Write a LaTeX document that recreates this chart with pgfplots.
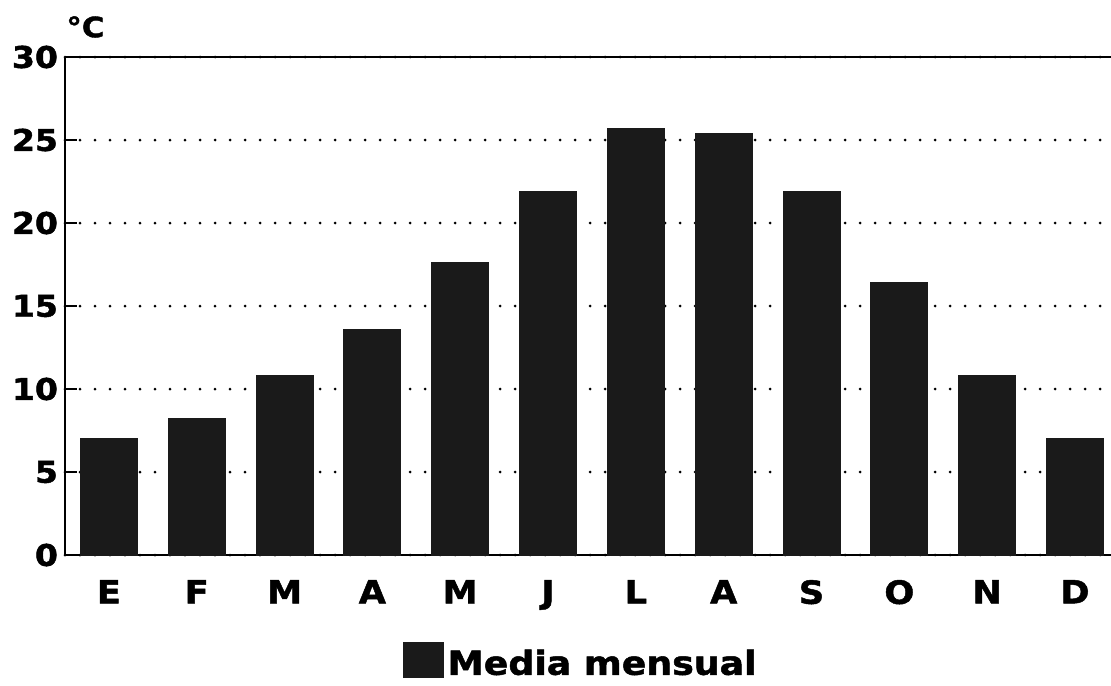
\documentclass[border=0pt]{standalone}
\usepackage{fontspec}
\setmainfont{DejaVu Sans}[BoldFeatures={FakeBold=1.5, FakeStretch=1.1}]
\usepackage{pgfplots}
\pgfplotsset{compat=1.18}
\definecolor{barblack}{HTML}{1A1A1A}
\begin{document}
\begin{tikzpicture}
\path[use as bounding box] (-32.5pt,-65pt) rectangle (523pt,277.5pt);
\begin{axis}[
    at={(0,0)}, anchor=south west,
    scale only axis,
    width=523pt, height=249pt,
    xmin=-0.5, xmax=11.41,
    ymin=0, ymax=30,
    ytick={0,5,10,15,20,25,30},
    xtick={0,...,11},
    xticklabels={E,F,M,A,M,J,L,A,S,O,N,D},
    axis x line=box,
    axis y line=left,
    axis line style={line width=1pt, -},
    every outer y axis line/.append style={-},
    x tick style={draw=none},
    y tick style={line width=1pt, black},
    major tick length=6pt,
    tick align=inside,
    ymajorgrids,
    major grid style={black, line width=1.5pt, dash pattern=on 0pt off 7.5pt, line cap=round},
    /pgf/number format/assume math mode=true,
    yticklabel style={font=\bfseries\fontsize{15}{17}\selectfont},
    xticklabel style={font=\bfseries\fontsize{16}{18}\selectfont, yshift=-3pt},
    ybar, bar width=28.5pt,
    legend style={at={(0.494,-0.215)}, anchor=center, draw=none,
        font=\bfseries\fontsize{16.5}{19}\selectfont},
    legend image code/.code={\fill[barblack] (0pt,-7pt) rectangle (20pt,10.5pt);},
    clip=false,
]
\addplot[fill=barblack, draw=barblack] coordinates {
    (0,7.0) (1,8.2) (2,10.8) (3,13.6) (4,17.6) (5,21.9)
    (6,25.7) (7,25.4) (8,21.9) (9,16.4) (10,10.8) (11,7.0)
};
\addlegendentry{Media mensual}
\node[anchor=south west, inner sep=0pt, font=\bfseries\fontsize{14}{16}\selectfont]
    at (rel axis cs:0,1) [yshift=9.5pt, xshift=0.5pt] {°C};
\end{axis}
\end{tikzpicture}
\end{document}
